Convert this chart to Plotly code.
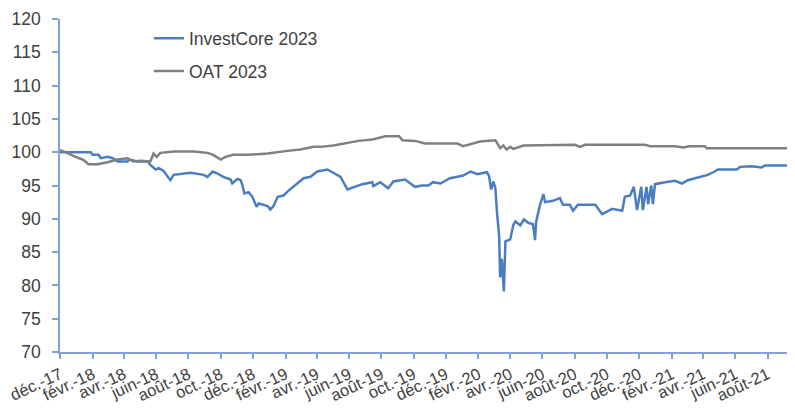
import plotly.graph_objects as go

# ---- data ----
investcore_dates = [
    "2017-12-01", "2018-01-28", "2018-02-01", "2018-02-12", "2018-02-16", "2018-03-01",
    "2018-03-11", "2018-03-20", "2018-04-08", "2018-04-10", "2018-04-27", "2018-05-16",
    "2018-05-21", "2018-05-31", "2018-06-06", "2018-06-15", "2018-06-23", "2018-06-28",
    "2018-07-04", "2018-08-05", "2018-08-30", "2018-09-06", "2018-09-16", "2018-09-25",
    "2018-10-06", "2018-10-20", "2018-10-23", "2018-11-02", "2018-11-08", "2018-11-11",
    "2018-11-15", "2018-11-23", "2018-11-30", "2018-12-08", "2018-12-12", "2018-12-29",
    "2019-01-03", "2019-01-09", "2019-01-17", "2019-01-28", "2019-02-06", "2019-02-23",
    "2019-03-07", "2019-03-20", "2019-04-02", "2019-04-21", "2019-05-02", "2019-05-16",
    "2019-05-29", "2019-06-09", "2019-06-26", "2019-07-15", "2019-07-17", "2019-07-30",
    "2019-08-14", "2019-08-24", "2019-09-15", "2019-10-04", "2019-10-17", "2019-10-29",
    "2019-11-07", "2019-11-21", "2019-12-09", "2020-01-03", "2020-01-17", "2020-01-30",
    "2020-02-17", "2020-02-21", "2020-02-25", "2020-02-29", "2020-03-04", "2020-03-07",
    "2020-03-11", "2020-03-13", "2020-03-16", "2020-03-20", "2020-03-23", "2020-04-01",
    "2020-04-07", "2020-04-11", "2020-04-20", "2020-04-27", "2020-05-05", "2020-05-14",
    "2020-05-18", "2020-05-20", "2020-05-27", "2020-06-03", "2020-06-06", "2020-06-21",
    "2020-07-04", "2020-07-10", "2020-07-23", "2020-07-29", "2020-08-07", "2020-08-26",
    "2020-09-09", "2020-09-22", "2020-10-11", "2020-10-30", "2020-11-04", "2020-11-14",
    "2020-11-21", "2020-11-27", "2020-12-05", "2020-12-08", "2020-12-15", "2020-12-18",
    "2020-12-24", "2020-12-27", "2020-12-31", "2021-01-19", "2021-02-07", "2021-02-20",
    "2021-03-03", "2021-03-17", "2021-03-30", "2021-04-10", "2021-04-23", "2021-04-29",
    "2021-06-04", "2021-06-10", "2021-07-02", "2021-07-21", "2021-07-27", "2021-09-08",
    "2021-09-16", "2021-09-22",
]
investcore_values = [
    100.0, 100.0, 99.6, 99.6, 99.1, 99.3,
    99.1, 98.6, 98.6, 98.9, 98.6, 98.6,
    98.1, 97.4, 97.6, 97.2, 96.3, 95.8,
    96.6, 96.9, 96.6, 96.3, 97.1, 96.8,
    96.3, 95.9, 95.3, 96.0, 95.8, 95.1,
    93.8, 94.0, 93.3, 91.8, 92.3, 91.9,
    91.4, 91.9, 93.3, 93.5, 94.2, 95.3,
    96.1, 96.3, 97.1, 97.4, 96.9, 96.3,
    94.4, 94.7, 95.2, 95.5, 94.9, 95.5,
    94.6, 95.6, 95.9, 94.8, 95.0, 95.0,
    95.5, 95.3, 96.1, 96.5, 97.1, 96.7,
    97.0, 96.4, 94.4, 95.6, 94.6, 91.0,
    87.5, 81.2, 84.0, 79.1, 86.6, 86.9,
    89.1, 89.6, 89.0, 89.9, 89.4, 89.2,
    86.8, 89.5, 92.0, 93.7, 92.5, 92.7,
    93.1, 92.1, 92.1, 91.2, 92.1, 92.1,
    92.1, 90.7, 91.5, 91.2, 93.3, 93.5,
    94.8, 91.3, 94.8, 91.3, 94.8, 92.2,
    95.0, 92.2, 95.2, 95.5, 95.7, 95.3,
    95.8, 96.1, 96.4, 96.6, 97.1, 97.4,
    97.4, 97.8, 97.9, 97.7, 98.0, 98.0,
    98.2, 98.1,
]

oat_dates = [
    "2017-12-01", "2017-12-15", "2017-12-27", "2018-01-15", "2018-01-24", "2018-02-10",
    "2018-03-01", "2018-03-20", "2018-04-08", "2018-04-19", "2018-05-03", "2018-05-21",
    "2018-05-27", "2018-06-02", "2018-06-09", "2018-07-04", "2018-08-11", "2018-09-06",
    "2018-09-17", "2018-10-01", "2018-10-10", "2018-10-25", "2018-11-21", "2018-12-29",
    "2019-02-04", "2019-03-01", "2019-03-26", "2019-04-08", "2019-05-02", "2019-05-25",
    "2019-06-19", "2019-07-15", "2019-08-09", "2019-09-04", "2019-09-10", "2019-10-04",
    "2019-10-23", "2019-12-23", "2020-01-03", "2020-02-04", "2020-03-04", "2020-03-13",
    "2020-03-19", "2020-03-25", "2020-04-01", "2020-04-07", "2020-04-26", "2020-08-02",
    "2020-08-11", "2020-08-21", "2020-12-12", "2020-12-22", "2021-02-07", "2021-02-22",
    "2021-03-07", "2021-04-04", "2021-04-08", "2021-09-22",
]
oat_values = [
    100.3, 99.9, 99.4, 98.8, 98.2, 98.2,
    98.5, 98.9, 99.1, 98.6, 98.7, 98.6,
    99.8, 99.3, 99.9, 100.1, 100.1, 99.9,
    99.6, 98.9, 99.3, 99.6, 99.6, 99.8,
    100.2, 100.4, 100.8, 100.8, 101.0, 101.3,
    101.7, 101.9, 102.4, 102.4, 101.8, 101.7,
    101.3, 101.3, 100.9, 101.6, 101.8, 100.6,
    101.0, 100.4, 100.8, 100.5, 101.0, 101.1,
    100.8, 101.1, 101.1, 100.9, 100.9, 100.7,
    100.9, 100.9, 100.6, 100.6,
]

tick_dates = [
    "2017-12-01", "2018-02-01", "2018-04-01", "2018-06-01", "2018-08-01", "2018-10-01",
    "2018-12-01", "2019-02-01", "2019-04-01", "2019-06-01", "2019-08-01", "2019-10-01",
    "2019-12-01", "2020-02-01", "2020-04-01", "2020-06-01", "2020-08-01", "2020-10-01",
    "2020-12-01", "2021-02-01", "2021-04-01", "2021-06-01", "2021-08-01",
]
tick_labels = [
    "déc.-17", "févr.-18", "avr.-18", "juin-18", "août-18", "oct.-18",
    "déc.-18", "févr.-19", "avr.-19", "juin-19", "août-19", "oct.-19",
    "déc.-19", "févr.-20", "avr.-20", "juin-20", "août-20", "oct.-20",
    "déc.-20", "févr.-21", "avr.-21", "juin-21", "août-21",
]

FONT = "Liberation Sans"
AXIS_COLOR = "#7FA1D3"
TEXT_COLOR = "#404040"

fig = go.Figure()
fig.add_trace(go.Scatter(
    x=investcore_dates, y=investcore_values, mode="lines", name="InvestCore 2023",
    line=dict(color="#4A7EC0", width=2.5), legendgroup="a",
))
fig.add_trace(go.Scatter(
    x=oat_dates, y=oat_values, mode="lines", name="OAT 2023",
    line=dict(color="#808080", width=2.5), legendgroup="b",
))

# page body has an 8px default margin; size the figure so it fits the 795x413 window
fig.update_layout(
    width=787, height=397,
    margin=dict(l=52, r=0, t=11, b=53, autoexpand=False),
    paper_bgcolor="white", plot_bgcolor="white",
    font=dict(family=FONT, size=17, color=TEXT_COLOR),
    showlegend=True,
    legend=dict(
        x=0.121, y=0.996, xanchor="left", yanchor="top",
        bgcolor="rgba(0,0,0,0)", font=dict(family=FONT, size=17.5, color=TEXT_COLOR),
        tracegroupgap=7,
    ),
)
fig.update_xaxes(
    type="date", range=["2017-12-01", "2021-09-22"],
    tickmode="array", tickvals=tick_dates, ticktext=tick_labels,
    tickangle=-25, tickfont=dict(family=FONT, size=16.5, color=TEXT_COLOR),
    ticklabeloverflow="allow",
    showline=True, linecolor=AXIS_COLOR, linewidth=1.5,
    ticks="outside", ticklen=5, tickcolor=AXIS_COLOR, tickwidth=1.5,
    showgrid=False, zeroline=False, automargin=False,
)
fig.update_yaxes(
    range=[70, 120], dtick=5, tick0=70,
    tickfont=dict(family=FONT, size=17.5, color=TEXT_COLOR),
    showline=True, linecolor=AXIS_COLOR, linewidth=1.5,
    ticks="outside", ticklen=6, tickcolor=AXIS_COLOR, tickwidth=1.5,
    ticklabelstandoff=8,
    showgrid=False, zeroline=False, automargin=False,
)

fig.write_html("out.html")
